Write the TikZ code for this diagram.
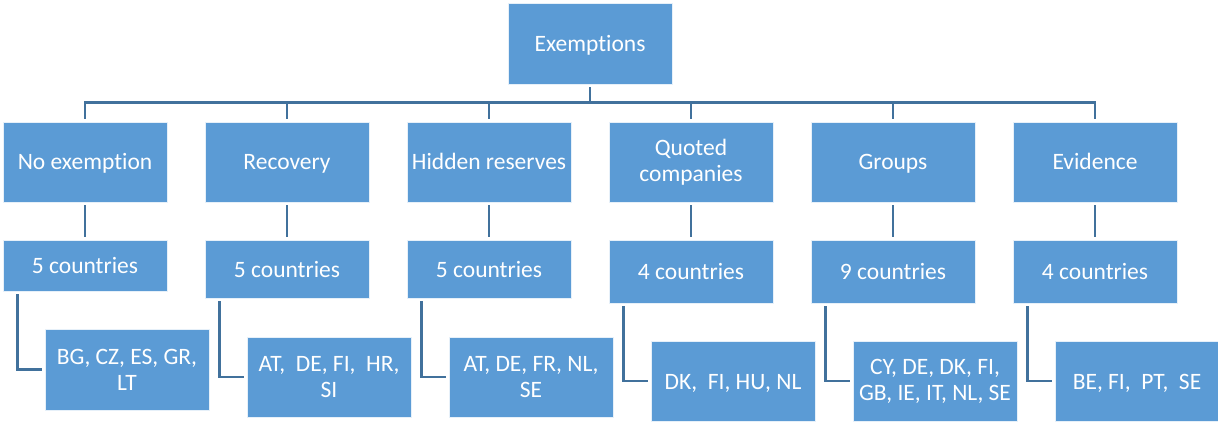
\documentclass[tikz,border=0pt]{standalone}
\usepackage{fontspec}
\setmainfont[Ligatures=NoCommon]{Carlito}
\usepackage{tikz}

\definecolor{boxblue}{HTML}{5B9BD5}
\definecolor{linkblue}{HTML}{41719C}

\tikzset{
    box/.style={fill=boxblue,draw=white!85!boxblue,line width=0.8pt,text=white,
        align=center,inner sep=1pt,minimum width=164pt,
        font=\fontsize{23.5}{26}\selectfont},
    oneline/.style={text height=20pt,text depth=4pt},
    link/.style={draw=linkblue,line width=2.6pt,shorten <=3pt,shorten >=3pt}
}

\begin{document}
\begin{tikzpicture}[x=1pt,y=-1pt]
    \useasboundingbox (0,0) rectangle (1218,422);
    % top
    \node[box,oneline,minimum height=81pt] (top) at (590,43.5) {Exemptions};
    % exemption types
    \node[box,oneline,minimum height=80pt] (none) at (85,162) {No exemption};
    \node[box,oneline,minimum height=80pt] (recov) at (287,162) {Recovery};
    \node[box,oneline,minimum height=80pt] (hidden) at (489,162) {Hidden reserves};
    \node[box,minimum height=80pt] (quoted) at (691,162) {Quoted\\companies};
    \node[box,oneline,minimum height=80pt] (groups) at (893,162) {Groups};
    \node[box,oneline,minimum height=80pt] (evid) at (1095,162) {Evidence};
    % number of countries
    \node[box,oneline,minimum height=51pt] (nnone) at (85,265.5) {5 countries};
    \node[box,oneline,minimum height=58pt] (nrecov) at (287,269) {5 countries};
    \node[box,oneline,minimum height=58pt] (nhidden) at (489,269) {5 countries};
    \node[box,oneline,minimum height=63pt] (nquoted) at (691,271.5) {4 countries};
    \node[box,oneline,minimum height=63pt] (ngroups) at (893,271.5) {9 countries};
    \node[box,oneline,minimum height=63pt] (nevid) at (1095,271.5) {4 countries};
    % country lists
    \node[box,minimum height=81pt] (cnone) at (127,369.5) {BG, CZ, ES, GR,\\LT};
    \node[box,minimum height=80pt] (crecov) at (329,377) {AT,~ DE, FI,~ HR,\\SI};
    \node[box,minimum height=80pt] (chidden) at (531,377) {AT, DE, FR, NL,\\SE};
    \node[box,oneline,minimum height=80pt] (cquoted) at (733,381) {DK,~ FI, HU, NL};
    \node[box,minimum height=80pt] (cgroups) at (935,381) {CY, DE, DK, FI,\\GB, IE, IT, NL, SE};
    \node[box,oneline,minimum height=80pt] (cevid) at (1137,381) {BE, FI,~ PT,~ SE};

    \foreach \t in {none,recov,hidden,quoted,groups,evid}{
        \draw[link] (top.south) -- ++(0,18) -| (\t.north);
        \draw[link] (\t.south) -- (n\t.north);
        \draw[link] ([xshift=15pt]n\t.south west) |- (c\t.west);
    }
\end{tikzpicture}
\end{document}
